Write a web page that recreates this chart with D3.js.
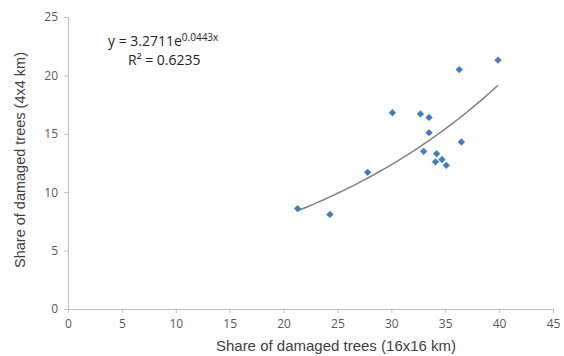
<!DOCTYPE html>
<html>
<head>
<meta charset="utf-8">
<script src="https://cdn.jsdelivr.net/npm/d3@7"></script>
<style>
  body { margin: 0; background: #fff; }
  svg { display: block; }
</style>
</head>
<body>
<svg id="chart" width="564" height="356"></svg>
<script>
// damaged tree shares
const share16 = [21.3, 24.3, 27.8, 30.1, 32.7, 33.5, 33.5, 33.0, 34.2, 34.1, 34.7, 35.1, 36.5, 36.3, 39.9];
const share4  = [8.6, 8.1, 11.7, 16.8, 16.7, 16.4, 15.1, 13.5, 13.3, 12.6, 12.8, 12.3, 14.3, 20.5, 21.3];
const xTicks = [0, 5, 10, 15, 20, 25, 30, 35, 40, 45];
const yTicks = [0, 5, 10, 15, 20, 25];
const fitA = 3.2711, fitB = 0.0443;

const svg = d3.select("#chart");
const margin = { top: 17, right: 11, bottom: 47, left: 68 };
const width = 564 - margin.left - margin.right;
const height = 356 - margin.top - margin.bottom;

const x = d3.scaleLinear().domain([0, 45]).range([0, width]);
const y = d3.scaleLinear().domain([0, 25]).range([height, 0]);

const g = svg.append("g")
  .attr("transform", `translate(${margin.left}, ${margin.top})`);

const xAxis = d3.axisBottom(x).tickValues(xTicks).tickSize(4).tickSizeOuter(0).tickPadding(6);
const yAxis = d3.axisLeft(y).tickValues(yTicks).tickSize(4).tickSizeOuter(0).tickPadding(6);

g.append("g").attr("class", "axis")
  .attr("transform", `translate(0, ${height})`)
  .call(xAxis);
g.append("g").attr("class", "axis").call(yAxis);

g.selectAll(".axis path, .axis line").attr("stroke", "#bfbfbf");
g.selectAll(".axis text")
  .attr("fill", "#595959")
  .style("font-family", "'Open Sans', sans-serif")
  .style("font-size", "12px");

// exponential trendline
const [x0, x1] = d3.extent(share16);
const curve = d3.range(0, 41).map(i => {
  const xv = x0 + (x1 - x0) * i / 40;
  return [xv, fitA * Math.exp(fitB * xv)];
});
g.append("path")
  .datum(curve)
  .attr("fill", "none")
  .attr("stroke", "#808080")
  .attr("stroke-width", 1.5)
  .attr("d", d3.line().x(d => x(d[0])).y(d => y(d[1])));

g.selectAll(".pt")
  .data(share16.map((v, i) => [v, share4[i]]))
  .enter()
  .append("path")
  .attr("class", "pt")
  .attr("d", d3.symbol(d3.symbolDiamond2, 34))
  .attr("transform", d => `translate(${x(d[0])}, ${y(d[1])})`)
  .attr("fill", "#3f7fc1");

// equation label
const eq = svg.append("text")
  .attr("x", 108).attr("y", 46)
  .attr("fill", "#262626")
  .style("font-family", "'Open Sans', sans-serif")
  .style("font-size", "14px");
eq.append("tspan").text("y = 3.2711e");
eq.append("tspan").attr("dy", -5).style("font-size", "10px").text("0.0443x");

svg.append("text")
  .attr("x", 128).attr("y", 65)
  .attr("fill", "#262626")
  .style("font-family", "'Open Sans', sans-serif")
  .style("font-size", "14px")
  .text("R² = 0.6235");

// axis titles
svg.append("text")
  .attr("x", 336).attr("y", 351)
  .attr("text-anchor", "middle")
  .attr("fill", "#404040")
  .style("font-family", "'Liberation Sans', Arial, sans-serif")
  .style("font-size", "15px")
  .text("Share of damaged trees (16x16 km)");

svg.append("text")
  .attr("transform", "translate(25, 160) rotate(-90)")
  .attr("text-anchor", "middle")
  .attr("fill", "#404040")
  .style("font-family", "'Liberation Sans', Arial, sans-serif")
  .style("font-size", "14.5px")
  .text("Share of damaged trees (4x4 km)");
</script>
</body>
</html>
